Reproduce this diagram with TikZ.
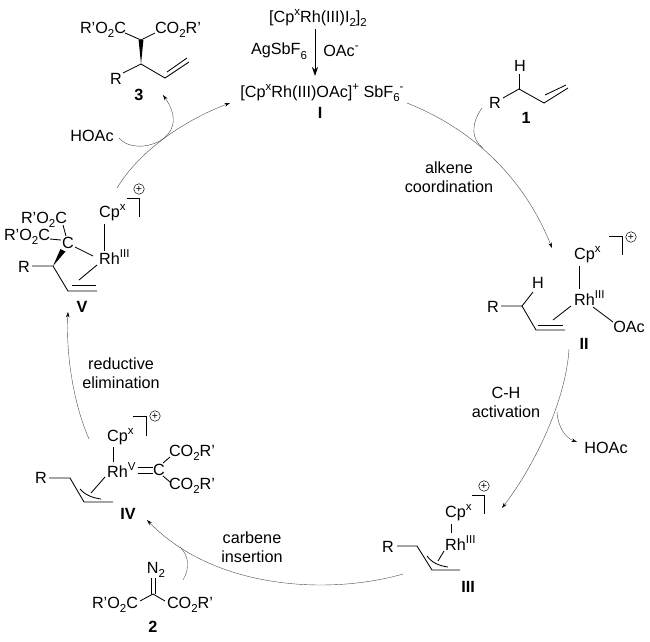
\documentclass[tikz,border=0pt]{standalone}
\usepackage{fontspec}
\setmainfont{Liberation Sans}
\usetikzlibrary{arrows.meta}
\newcommand\ssb[1]{\raisebox{-0.28em}{\fontsize{11.5}{11.5}\selectfont #1}}
\newcommand\ssp[1]{\raisebox{0.42em}{\fontsize{11.5}{11.5}\selectfont #1}}
\tikzset{
  txt/.style={inner sep=0pt,font=\fontsize{16.2}{16}\selectfont},
  ltx/.style={txt,anchor=west},
  lbl/.style={inner sep=0pt,font=\fontsize{16.2}{16}\selectfont\bfseries},
  bond/.style={line width=0.85pt,black},
  cyc/.style={line width=0.4pt,black!70,-{Stealth[length=5.5pt,width=3.5pt,black]}},
  cycn/.style={line width=0.4pt,black!70},
  wedge/.style={fill=black,draw=none},
  chg/.style={circle,draw,line width=0.5pt,inner sep=0pt,minimum size=10.5pt,font=\fontsize{10.5}{10}\selectfont}
}
\begin{document}
\begin{tikzpicture}[x=1pt,y=-1pt]
\useasboundingbox (0,0) rectangle (650,641);
% ---- precursor and I
\node[txt] (pre) at (318,18) {[Cp\ssp{x}Rh(III)I\ssb{2}]\ssb{2}};
\node[txt] (ag) at (279,51) {AgSbF\ssb{6}};
\node[txt] (oac) at (341,51) {OAc\ssp{-}};
\node[txt] (I) at (322,93) {[Cp\ssp{x}Rh(III)OAc]\ssp{+} SbF\ssb{6}\ssp{-}};
\node[lbl] (Il) at (320,113) {I};
\coordinate (p1) at (315,29); \coordinate (p2) at (315,76);
\draw[line width=0.8pt,-{Stealth[length=9pt,width=6pt]}] (p1) -- (p2);
% ---- 3
\node[txt] (a3) at (103,30) {R'O\ssb{2}C};
\node[txt] (b3) at (178,30) {CO\ssb{2}R'};
\node[txt] (r3) at (116,79) {R};
\node[lbl] (l3) at (139,95) {3};
\draw[bond] (125,33) -- (141,40) -- (155,33);
\draw[wedge] (138.6,40) -- (143.4,40) -- (141,64) -- cycle;
\draw[bond] (123,73) -- (141,64) -- (165,78) -- (189,62);
\draw[bond] (167,72) -- (187,58);
% ---- 1
\node[txt] (r1) at (495,103) {R};
\node[txt] (h1) at (520,66) {H};
\node[lbl] (l1) at (526,118) {1};
\draw[bond] (503,98) -- (519,89) -- (544,103) -- (568,88);
\draw[bond] (519,74) -- (519,89);
\draw[bond] (545,95) -- (566,85);
% ---- II
\node[ltx] (cp2) at (574,255) {Cp\ssp{x}};
\node[ltx] (rh2) at (574,298) {Rh\ssp{III}};
\node[txt] (r2) at (493,307) {R};
\node[txt] (h2) at (538,283) {H};
\node[txt] (oac2) at (629,327) {OAc};
\node[lbl] (l2) at (584,344) {II};
\draw[bond] (501,306) -- (522,306) -- (536,330) -- (565,330);
\draw[bond] (522,306) -- (533,292);
\draw[bond] (538,325) -- (563,325);
\draw[bond] (571,306) -- (553,320);
\draw[bond] (579,266) -- (579,289);
\draw[bond] (593,307) -- (613,322);
\draw[bond] (609,236) -- (622,236) -- (622,255);
\node[chg] (c2) at (631,237) {+};
% ---- III
\node[ltx] (cp3) at (445,513) {Cp\ssp{x}};
\node[ltx] (rh3) at (445,543) {Rh\ssp{III}};
\node[txt] (r33) at (388,547) {R};
\node[lbl] (l33) at (468,587) {III};
\draw[bond] (397,546) -- (417,546) -- (432,570) -- (460,570);
\draw[bond] (427,556) .. controls (432,563) and (440,566) .. (448,567);
\draw[bond] (444,551) -- (438,561);
\draw[bond] (451,524) -- (451,533);
\draw[bond] (472,495) -- (484,495) -- (484,514);
\node[chg] (c3) at (484,486) {+};
% ---- IV
\node[ltx] (cp4) at (107,437) {Cp\ssp{x}};
\node[ltx] (rh4) at (107,470) {Rh\ssp{V}};
\node[txt] (c4) at (159,470) {C};
\node[txt] (e4a) at (192,453) {CO\ssb{2}R'};
\node[txt] (e4b) at (192,486) {CO\ssb{2}R'};
\node[txt] (r4) at (41,478) {R};
\node[lbl] (l4) at (128,514) {IV};
\draw[bond] (138,467) -- (153,467);
\draw[bond] (138,473) -- (153,473);
\draw[bond] (163,463) -- (170,457);
\draw[bond] (163,476) -- (170,482);
\draw[bond] (113,447) -- (113,462);
\draw[bond] (49,478) -- (70,478) -- (84,502) -- (113,502);
\draw[bond] (80,489) .. controls (85,495) and (93,498) .. (101,499);
\draw[bond] (105,477) -- (91,493);
\draw[bond] (133,416) -- (146,416) -- (146,436);
\node[chg] (c44) at (155,416) {+};
% ---- 2
\node[txt] (n2) at (156,570) {N\ssb{2}};
\node[txt] (a2) at (115,605) {R'O\ssb{2}C};
\node[txt] (b2) at (190,605) {CO\ssb{2}R'};
\node[lbl] (l22) at (153,627) {2};
\draw[bond] (151,578) -- (151,594);
\draw[bond] (155,578) -- (155,594);
\draw[bond] (140,601) -- (153,594) -- (165,601);
% ---- V
\node[ltx] (cp5) at (99,213) {Cp\ssp{x}};
\node[ltx] (rh5) at (99,257) {Rh\ssp{III}};
\node[txt] (a5) at (44,220) {R'O\ssb{2}C};
\node[txt] (b5) at (27,237) {R'O\ssb{2}C};
\node[txt] (c5) at (68,243) {C};
\node[txt] (r5) at (24,267) {R};
\node[lbl] (l5) at (82,307) {V};
\draw[bond] (104,224) -- (104,251);
\draw[bond] (127,198) -- (139,198) -- (139,217);
\node[chg] (c55) at (139,189) {+};
\draw[bond] (63,225) -- (66,236);
\draw[bond] (50,239) -- (61,240);
\draw[bond] (75,247) -- (93,256);
\draw[wedge] (60.5,249) -- (65.5,251.5) -- (53,266) -- cycle;
\draw[bond] (32,266) -- (53,266) -- (68,291) -- (97,291);
\draw[bond] (72,285) -- (96,285);
\draw[bond] (97,265) -- (79,280);
% ---- step labels
\node[txt] (s1a) at (449,168) {alkene};
\node[txt] (s1b) at (449,187) {coordination};
\node[txt] (s2a) at (506,393) {C-H};
\node[txt] (s2b) at (506,412) {activation};
\node[txt] (s3a) at (252,538) {carbene};
\node[txt] (s3b) at (252,557) {insertion};
\node[txt] (s4a) at (121,364) {reductive};
\node[txt] (s4b) at (121,383) {elimination};
\node[txt] (hoac1) at (92,136) {HOAc};
\node[txt] (hoac2) at (606,448) {HOAc};
% ---- cycle arrows
\coordinate (q1s) at (407,103); \coordinate (q1e) at (552,248);
\coordinate (q2s) at (569,349); \coordinate (q2e) at (502,508);
\coordinate (q3s) at (403,574); \coordinate (q3e) at (147,520);
\coordinate (q4s) at (89,439);  \coordinate (q4e) at (68,312);
\coordinate (q5s) at (117,188); \coordinate (q5e) at (230,103);
\draw[cyc] (q1s) .. controls (475,130) and (525,180) .. (q1e);
\draw[cyc] (q2s) .. controls (566,400) and (535,465) .. (q2e);
\draw[cyc] (q3s) .. controls (330,595) and (215,590) .. (q3e);
\draw[cyc] (q4s) .. controls (72,400) and (66,350) .. (q4e);
\draw[cyc] (q5s) .. controls (140,150) and (185,120) .. (q5e);
% ---- side arrows
\coordinate (t1s) at (119,138); \coordinate (t1e) at (163,95);
\coordinate (t2s) at (482,108); \coordinate (t2e) at (483,148);
\coordinate (t3s) at (557,412); \coordinate (t3e) at (577,442);
\coordinate (t4s) at (183,580); \coordinate (t4e) at (180,547);
\draw[cyc] (t1s) .. controls (135,158) and (195,140) .. (t1e);
\draw[cycn] (t2s) .. controls (470,125) and (472,140) .. (t2e);
\draw[cyc] (t3s) .. controls (558,428) and (566,438) .. (t3e);
\draw[cycn] (t4s) .. controls (190,568) and (189,556) .. (t4e);
\end{tikzpicture}
\end{document}
